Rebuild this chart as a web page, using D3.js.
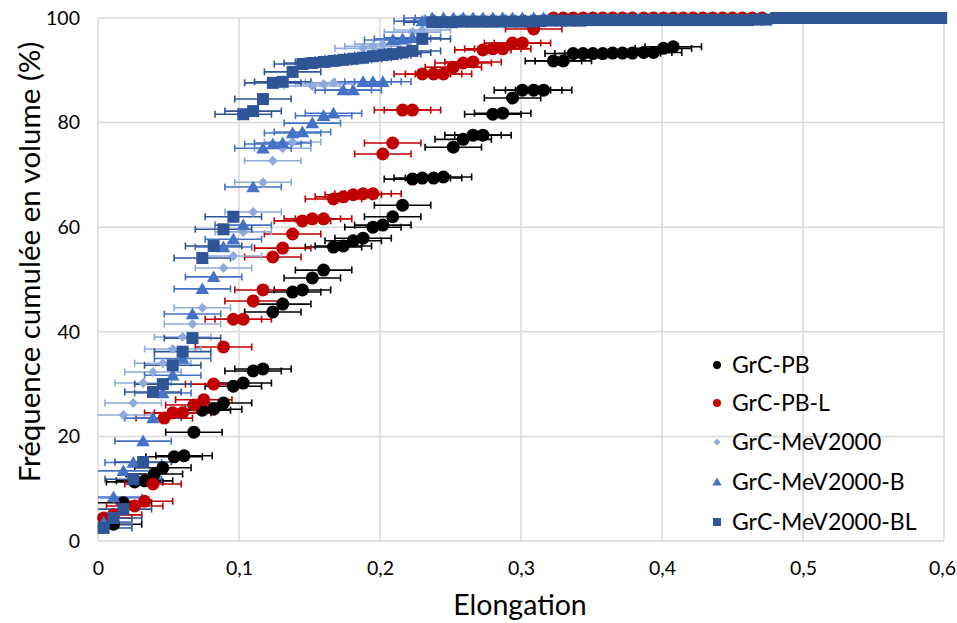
<!DOCTYPE html>
<html>
<head>
<meta charset="utf-8">
<script src="https://cdn.jsdelivr.net/npm/d3@7"></script>
<style>
  html, body { margin: 0; padding: 0; background: #fff; }
  svg { display: block; font-family: "Lato", "Open Sans", sans-serif; }
</style>
</head>
<body>
<svg id="chart" width="957" height="623"></svg>
<script>
// ---------------- DATA ----------------
const seriesNames = ["GrC-PB", "GrC-PB-L", "GrC-MeV2000", "GrC-MeV2000-B", "GrC-MeV2000-BL"];
const xTicks = [0, 0.1, 0.2, 0.3, 0.4, 0.5, 0.6];
const yTicks = [0, 20, 40, 60, 80, 100];
const errHalfWidth = [0.02, 0.02, 0.02, 0.02, 0.02];

const pbX = [0.011,0.018,0.026,0.033,0.040,0.046,0.054,0.061,0.068,0.074,0.082,0.089,0.096,0.103,0.110,0.117,0.124,0.131,0.138,0.145,0.152,0.160,0.167,0.174,0.181,0.188,0.195,0.202,0.209,0.216,0.223,0.230,0.238,0.245,0.252,0.259,0.266,0.273,0.280,0.287,0.294,0.301,0.309,0.316,0.323,0.330,0.337,0.344,0.351,0.358,0.365,0.372,0.379,0.387,0.394,0.401,0.408];
const pbY = [3.2,7.3,11.3,11.5,12.8,14.0,16.1,16.3,20.8,25.0,25.2,26.4,29.6,30.2,32.5,32.9,43.8,45.3,47.6,48.0,50.3,51.8,56.2,56.4,57.4,57.9,60.0,60.4,62.0,64.2,69.2,69.4,69.4,69.6,75.3,76.8,77.6,77.6,81.6,81.8,84.7,86.2,86.2,86.2,91.8,91.8,93.2,93.2,93.2,93.2,93.3,93.3,93.3,93.4,93.4,94.2,94.5];

const pblX = [0.004,0.011,0.026,0.033,0.039,0.047,0.053,0.060,0.068,0.075,0.082,0.089,0.096,0.103,0.110,0.117,0.124,0.131,0.138,0.145,0.152,0.160,0.167,0.174,0.181,0.188,0.195,0.202,0.209,0.216,0.223,0.230,0.238,0.245,0.252,0.259,0.266,0.273,0.280,0.287,0.294,0.301,0.309,0.323,0.330,0.337,0.344,0.351,0.358,0.365,0.372,0.379,0.387,0.394,0.401,0.408,0.415,0.422,0.429,0.436,0.443,0.450,0.457,0.464,0.471];
const pblY = [4.4,5.0,6.7,7.6,10.9,23.5,24.5,24.5,26.0,27.0,30.0,37.1,42.4,42.4,45.9,48.0,54.3,56.0,58.7,61.2,61.6,61.6,65.4,65.8,66.2,66.4,66.4,74.0,76.1,82.4,82.4,89.3,89.3,89.3,90.6,91.4,91.6,93.9,94.1,94.1,95.2,95.2,97.9,100,100,100,100,100,100,100,100,100,100,100,100,100,100,100,100,100,100,100,100,100,100];

const mevX = [0.004,0.011,0.018,0.025,0.032,0.039,0.046,0.053,0.060,0.067,0.074,0.089,0.096,0.103,0.110,0.117,0.124,0.131,0.138,0.152,0.160,0.167,0.188,0.195,0.202,0.223,0.230,0.237,0.245,0.252,0.259,0.266,0.273,0.280];
const mevY = [3.0,8.2,24.1,26.4,30.2,32.3,34.0,36.7,39.0,41.5,44.6,52.2,54.5,59.1,62.9,68.6,72.7,75.1,76.3,87.0,87.4,87.6,94.2,94.6,95.0,97.3,97.7,99.5,99.6,99.7,99.8,99.8,99.9,100];

const mevbX = [0.004,0.011,0.018,0.025,0.032,0.039,0.046,0.053,0.060,0.067,0.074,0.082,0.089,0.096,0.103,0.110,0.117,0.124,0.131,0.138,0.145,0.152,0.160,0.167,0.174,0.181,0.188,0.195,0.202,0.209,0.216,0.223,0.230,0.237,0.245,0.252,0.259,0.266,0.273,0.280,0.287,0.294,0.301,0.309,0.316];
const mevbY = [3.6,8.4,13.4,15.0,19.1,23.5,28.3,31.7,34.9,43.4,48.2,50.5,56.2,57.7,60.4,67.7,75.1,75.9,76.1,78.0,78.2,79.9,81.3,81.8,86.2,86.2,87.8,87.8,87.8,95.8,96.0,96.2,99.4,100,100,100,100,100,100,100,100,100,100,100,100];

const mevblX = [0.004,0.011,0.018,0.025,0.032,0.039,0.046,0.053,0.060,0.067,0.074,0.082,0.089,0.096,0.103,0.110,0.117,0.124,0.131,0.138,0.145,0.152,0.160,0.167,0.174,0.181,0.188,0.195,0.202,0.209,0.216,0.223,0.230,
  0.237,0.244,0.251,0.258,0.265,0.272,0.279,0.286,0.293,0.300,0.307,0.314,0.321,0.328,0.335,0.342,0.349,0.356,0.363,0.370,0.377,0.384,0.391,0.398,0.405,0.412,0.419,0.426,0.433,0.440,0.447,0.454,0.461,0.468,0.474,
  0.481,0.488,0.495,0.502,0.509,0.516,0.523,0.530,0.537,0.544,0.551,0.558,0.565,0.572,0.579,0.586,0.593,0.598];
const mevblY = [2.5,4.4,6.1,11.8,15.1,28.5,30.0,33.6,36.2,38.8,54.1,56.4,59.6,62.0,81.6,82.2,84.5,87.6,87.8,89.7,91.2,91.4,91.6,91.8,92.0,92.2,92.4,92.7,92.9,93.1,93.4,93.7,96.0,
  99.2,99.2,99.2,99.3,99.3,99.3,99.3,99.3,99.3,99.3,99.3,99.4,99.5,99.5,99.5,99.5,99.6,99.6,99.6,99.6,99.6,99.6,99.6,99.6,99.6,99.6,99.6,99.6,99.6,99.6,99.6,99.6,99.6,99.7,99.7,
  100,100,100,100,100,100,100,100,100,100,100,100,100,100,100,100,100,100];

// ---------------- STYLE ----------------
const colors = ["#000000", "#C00000", "#8FAADC", "#4472C4", "#2F5597"];
const shapes = ["circle", "circle", "diamond", "triangle", "square"];
const seriesX = [pbX, pblX, mevX, mevbX, mevblX];
const seriesY = [pbY, pblY, mevY, mevbY, mevblY];

const W = 957, H = 623;
const margin = { left: 98, right: 957 - 944, top: 18, bottom: 623 - 541 };
const svg = d3.select("#chart");

const x = d3.scaleLinear().domain([0, 0.6]).range([margin.left, W - margin.right]);
const y = d3.scaleLinear().domain([0, 100]).range([H - margin.bottom, margin.top]);

const commaFmt = v => (v === 0 ? "0" : d3.format(".1f")(v).replace(".", ","));

// gridlines
const grid = svg.append("g");
grid.selectAll("line.v").data(xTicks).join("line")
  .attr("x1", d => x(d)).attr("x2", d => x(d))
  .attr("y1", y(0)).attr("y2", y(100))
  .attr("stroke", "#D9D9D9").attr("stroke-width", 1.5);
grid.selectAll("line.h").data(yTicks).join("line")
  .attr("x1", x(0)).attr("x2", x(0.6))
  .attr("y1", d => y(d)).attr("y2", d => y(d))
  .attr("stroke", "#D9D9D9").attr("stroke-width", 1.5);

// axes (labels only, lines drawn as grid)
const xAxis = d3.axisBottom(x).tickValues(xTicks).tickFormat(commaFmt).tickSize(0).tickPadding(20);
const yAxis = d3.axisLeft(y).tickValues(yTicks).tickFormat(d3.format("d")).tickSize(0).tickPadding(18);
const gx = svg.append("g").attr("transform", `translate(0,${y(0)})`).call(xAxis);
const gy = svg.append("g").attr("transform", `translate(${x(0)},0)`).call(yAxis);
[gx, gy].forEach(g => {
  g.select(".domain").remove();
  g.selectAll("text").attr("font-size", 19.5).attr("fill", "#000").attr("font-family", "Lato, 'Open Sans', sans-serif");
});
// keep the last x label fully inside the picture
gx.selectAll(".tick").filter(d => d === 0.6).select("text").attr("dx", -2);

// axis titles
svg.append("text").attr("x", 520).attr("y", 615).attr("text-anchor", "middle")
  .attr("font-size", 28.5).attr("fill", "#000").text("Elongation");
svg.append("text").attr("transform", `translate(40,262) rotate(-90)`)
  .attr("text-anchor", "middle").attr("font-size", 29.5).attr("fill", "#000")
  .text("Fréquence cumulée en volume (%)");

// marker path generator
function markerPath(shape, s) {
  if (shape === "circle") return d3.symbol(d3.symbolCircle, Math.PI * s * s / 4)();
  if (shape === "square") return d3.symbol(d3.symbolSquare, s * s)();
  if (shape === "diamond") { const h = s / 2; return `M0,${-h}L${h},0L0,${h}L${-h},0Z`; }
  if (shape === "triangle") { const h = s / 2; return `M0,${-h}L${h * 1.05},${h * 0.8}L${-h * 1.05},${h * 0.8}Z`; }
}
const markerSizes = [13, 13, 10, 13, 12];

// clip
svg.append("clipPath").attr("id", "plotclip").append("rect")
  .attr("x", x(0) - 10).attr("y", 0).attr("width", x(0.6) - x(0) + 20).attr("height", y(0) + 8);

const plot = svg.append("g").attr("clip-path", "url(#plotclip)");

// error bars (all first)
seriesX.forEach((xs, i) => {
  const data = xs.map((v, j) => ({ x: v, y: seriesY[i][j], e: errHalfWidth[i] }));
  const g = plot.append("g").attr("stroke", colors[i]).attr("stroke-width", 1.6).attr("fill", "none");
  g.selectAll("line.bar").data(data).join("line")
    .attr("x1", d => x(Math.max(0, d.x - d.e))).attr("x2", d => x(Math.min(0.6, d.x + d.e)))
    .attr("y1", d => y(d.y)).attr("y2", d => y(d.y));
  g.selectAll("line.capl").data(data.filter(d => d.x - d.e >= 0)).join("line")
    .attr("x1", d => x(d.x - d.e)).attr("x2", d => x(d.x - d.e))
    .attr("y1", d => y(d.y) - 3.5).attr("y2", d => y(d.y) + 3.5);
  g.selectAll("line.capr").data(data.filter(d => d.x + d.e <= 0.6)).join("line")
    .attr("x1", d => x(d.x + d.e)).attr("x2", d => x(d.x + d.e))
    .attr("y1", d => y(d.y) - 3.5).attr("y2", d => y(d.y) + 3.5);
});

// markers
seriesX.forEach((xs, i) => {
  const data = xs.map((v, j) => ({ x: v, y: seriesY[i][j] }));
  plot.append("g").selectAll("path").data(data).join("path")
    .attr("d", markerPath(shapes[i], markerSizes[i]))
    .attr("transform", d => `translate(${x(d.x)},${y(d.y)})`)
    .attr("fill", colors[i]);
});

// legend
const legendY = [365, 403, 442, 482, 522];
const legendMarker = [8, 8, 7, 9, 8];
const leg = svg.append("g");
seriesNames.forEach((name, i) => {
  leg.append("path").attr("d", markerPath(shapes[i], legendMarker[i]))
    .attr("transform", `translate(717,${legendY[i]})`).attr("fill", colors[i]);
  leg.append("text").attr("x", 732).attr("y", legendY[i]).attr("dy", "0.35em")
    .attr("font-size", 23).attr("fill", "#000").text(name);
});
</script>
</body>
</html>
